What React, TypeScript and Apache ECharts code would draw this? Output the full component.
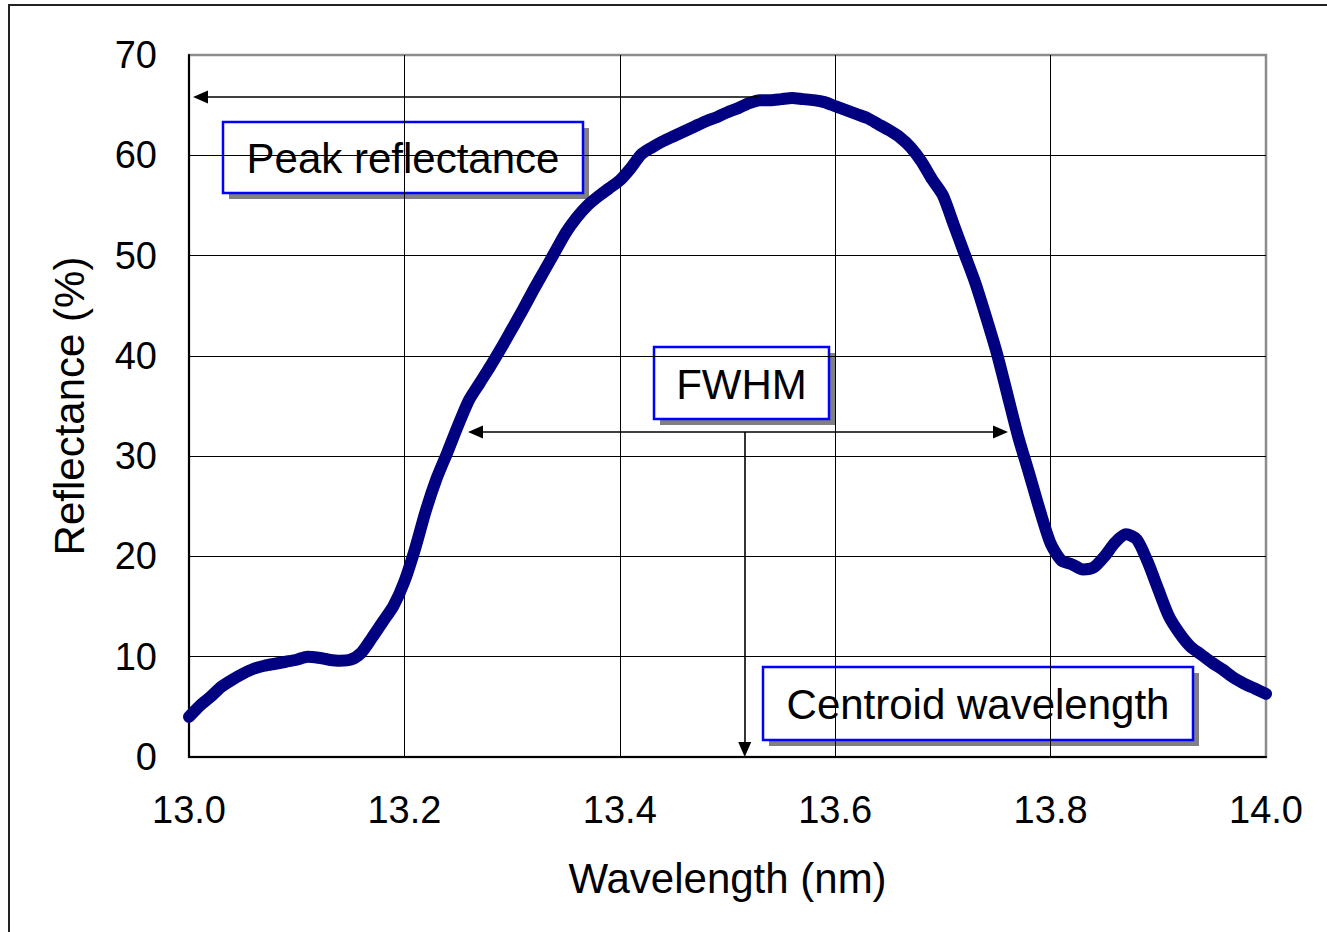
import React, { useEffect, useRef } from "react";
import * as echarts from "echarts";

const wavelength: number[] = [
  13.0, 13.01, 13.02, 13.03, 13.04, 13.05, 13.06, 13.07, 13.08, 13.09,
  13.1, 13.11, 13.12, 13.13, 13.14, 13.15, 13.16, 13.17, 13.18, 13.19,
  13.2, 13.21, 13.22, 13.23, 13.24, 13.25, 13.26, 13.27, 13.28, 13.29,
  13.3, 13.31, 13.32, 13.33, 13.34, 13.35, 13.36, 13.37, 13.38, 13.39,
  13.4, 13.41, 13.42, 13.43, 13.44, 13.45, 13.46, 13.47, 13.48, 13.49,
  13.5, 13.51, 13.52, 13.53, 13.54, 13.55, 13.56, 13.57, 13.58, 13.59,
  13.6, 13.61, 13.62, 13.63, 13.64, 13.65, 13.66, 13.67, 13.68, 13.69,
  13.7, 13.71, 13.72, 13.73, 13.74, 13.75, 13.76, 13.77, 13.78, 13.79,
  13.8, 13.81, 13.82, 13.83, 13.84, 13.85, 13.86, 13.87, 13.88, 13.89,
  13.9, 13.91, 13.92, 13.93, 13.94, 13.95, 13.96, 13.97, 13.98, 13.99,
  14.0,
];

const reflectance: number[] = [
  4.0, 5.1, 6.0, 7.0, 7.7, 8.3, 8.8, 9.1, 9.3, 9.5,
  9.7, 10.0, 9.9, 9.7, 9.6, 9.7, 10.4, 11.9, 13.5, 15.1,
  17.5, 20.8, 24.6, 27.8, 30.4, 33.1, 35.6, 37.3, 39.0, 40.8,
  42.7, 44.6, 46.6, 48.5, 50.4, 52.3, 53.8, 55.0, 55.9, 56.7,
  57.5, 58.7, 60.1, 60.8, 61.4, 61.9, 62.4, 62.9, 63.4, 63.8,
  64.3, 64.7, 65.2, 65.5, 65.5, 65.6, 65.7, 65.6, 65.5, 65.3,
  64.9, 64.5, 64.1, 63.7, 63.1, 62.5, 61.8, 60.8, 59.4, 57.6,
  56.0, 53.1, 50.2, 47.3, 43.9, 40.3, 36.1, 31.9, 28.3, 24.6,
  21.3, 19.6, 19.2, 18.7, 18.9, 20.0, 21.4, 22.2, 21.7, 19.5,
  16.7, 14.0, 12.3, 11.0, 10.2, 9.4, 8.7, 7.9, 7.3, 6.8,
  6.3,
];

const xTicks = { min: 13.0, max: 14.0, interval: 0.2 };
const yTicks = { min: 0, max: 70, interval: 10 };

// Annotation arrows (data coordinates; arrowhead centres)
const peakArrow = { y: 65.8, xFrom: 13.529, xTo: 13.0107 };
const fwhmArrow = { y: 32.4, xFrom: 13.266, xTo: 13.7535 };
const centroidArrow = { x: 13.516, yFrom: 32.4, yTo: 0.75 };

const boxLabels = ["Peak reflectance", "FWHM", "Centroid wavelength"];

const FONT = '"Liberation Sans", Arial, Helvetica, sans-serif';

function box(x: number, y: number, w: number, h: number, label: string) {
  return {
    type: "group",
    z: 100,
    children: [
      { type: "rect", shape: { x: x + 6, y: y + 6, width: w, height: h }, style: { fill: "#808080" } },
      { type: "rect", shape: { x, y, width: w, height: h }, style: { fill: "#ffffff", stroke: "#0000ff", lineWidth: 2.5 } },
      {
        type: "text",
        x: x + w / 2,
        y: y + h / 2 + 1,
        style: { text: label, fill: "#000", font: `42px ${FONT}`, align: "center", verticalAlign: "middle" },
      },
    ],
  };
}

export default function App() {
  const ref = useRef<HTMLDivElement>(null);
  useEffect(() => {
    if (!ref.current) return;
    const chart = echarts.init(ref.current, null, { renderer: "svg" });
    const seriesData = wavelength.map((w, i) => [w, reflectance[i]]);
    const arrowLine = { color: "#000", width: 1.6, type: "solid" as const };
    chart.setOption({
      animation: false,
      backgroundColor: "#ffffff",
      textStyle: { fontFamily: FONT },
      grid: {
        left: 189,
        top: 55,
        right: 61,
        bottom: 175,
        show: true,
        borderColor: "#8c8c8c",
        borderWidth: 2.5,
        backgroundColor: "transparent",
      },
      xAxis: {
        type: "value",
        min: xTicks.min,
        max: xTicks.max,
        interval: xTicks.interval,
        name: "Wavelength (nm)",
        nameLocation: "middle",
        nameGap: 100,
        nameTextStyle: { fontSize: 42, color: "#000", fontFamily: FONT },
        axisLine: { show: true, onZero: false, lineStyle: { color: "#000", width: 2 } },
        axisTick: { show: false },
        axisLabel: {
          fontSize: 38,
          color: "#000",
          margin: 34,
          fontFamily: FONT,
          formatter: (v: number) => v.toFixed(1),
        },
        splitLine: { show: true, showMaxLine: false, lineStyle: { color: "#000", width: 1 } },
      },
      yAxis: {
        type: "value",
        min: yTicks.min,
        max: yTicks.max,
        interval: yTicks.interval,
        name: "Reflectance (%)",
        nameLocation: "middle",
        nameGap: 99,
        nameRotate: 90,
        nameTextStyle: { fontSize: 42, color: "#000", fontFamily: FONT },
        axisLine: { show: true, onZero: false, lineStyle: { color: "#000", width: 2 } },
        axisTick: { show: false },
        axisLabel: { fontSize: 38, color: "#000", margin: 32, fontFamily: FONT },
        splitLine: { show: true, showMaxLine: false, lineStyle: { color: "#000", width: 1 } },
      },
      series: [
        {
          type: "line",
          data: seriesData,
          showSymbol: false,
          symbol: "none",
          smooth: 0.25,
          lineStyle: { color: "#000080", width: 12, join: "round", cap: "round" },
          z: 5,
          markLine: {
            silent: true,
            z: 6,
            label: { show: false },
            symbol: ["none", "triangle"],
            symbolSize: [13, 15],
            lineStyle: arrowLine,
            data: [
              [
                { coord: [peakArrow.xFrom, peakArrow.y], symbol: "none" },
                { coord: [peakArrow.xTo, peakArrow.y], symbol: "triangle" },
              ],
              [
                { coord: [fwhmArrow.xFrom, fwhmArrow.y], symbol: "triangle" },
                { coord: [fwhmArrow.xTo, fwhmArrow.y], symbol: "triangle" },
              ],
              [
                { coord: [centroidArrow.x, centroidArrow.yFrom], symbol: "none" },
                { coord: [centroidArrow.x, centroidArrow.yTo], symbol: "triangle" },
              ],
            ],
          },
        },
      ],
      graphic: [
        {
          type: "rect",
          z: 0,
          silent: true,
          shape: { x: 9, y: 5, width: 1400, height: 1000 },
          style: { fill: "none", stroke: "#222", lineWidth: 2 },
        },
        box(223, 122, 360, 71, boxLabels[0]),
        box(654, 347, 175, 72, boxLabels[1]),
        box(763, 667, 430, 73, boxLabels[2]),
      ],
    });
    return () => chart.dispose();
  }, []);
  return (
    <div
      ref={ref}
      style={{ position: "absolute", left: 0, top: 0, width: 1327, height: 932, background: "#fff" }}
    />
  );
}
